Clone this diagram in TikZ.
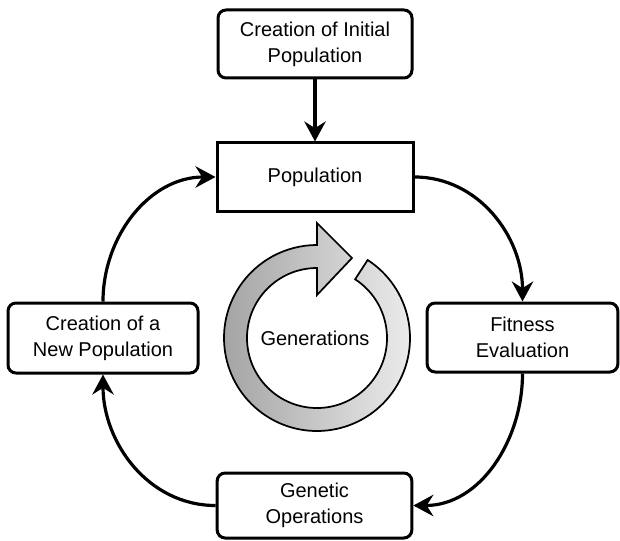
\documentclass[tikz,border=0pt]{standalone}
\usepackage{fontspec}
\setmainfont{Liberation Sans}
\usetikzlibrary{arrows.meta}
\begin{document}
\begin{tikzpicture}[x=0.75pt,y=0.75pt,
  box/.style={draw, line width=2.25pt, align=center, inner sep=0pt, font=\fontsize{15}{19.5}\selectfont},
  rbox/.style={box, rounded corners=6pt},
  conn/.style={line width=2.4pt, -{Stealth[length=15pt,width=16pt,inset=5pt]}},
  lbl/.style={font=\fontsize{15}{19.5}\selectfont}
]
\useasboundingbox (0,0) rectangle (620,540);

\node[rbox, minimum width=145.5pt, minimum height=51pt] (init) at (315,496) {Creation of Initial\\Population};
\node[box, minimum width=147pt, minimum height=51pt] (pop) at (315,363) {Population};
\node[rbox, minimum width=142.5pt, minimum height=52.5pt] (newpop) at (103,202) {Creation of a\\New Population};
\node[rbox, minimum width=143pt, minimum height=51.75pt] (fit) at (522.5,202.5) {Fitness\\Evaluation};
\node[rbox, minimum width=146pt, minimum height=48.75pt] (gen) at (314.5,34.5) {Genetic\\Operations};

\draw[conn] (init) -- (pop);
\draw[conn] (pop.east) to[out=0,in=90] (fit.north);
\draw[conn] (fit.south) to[out=-90,in=0] (gen.east);
\draw[conn] (gen.west) to[out=180,in=-90] (newpop.south);
\draw[conn] (newpop.north) to[out=90,in=180] (pop.west);

\begin{scope}[shift={(317,202)}]
  \shade[left color=gray!75, right color=gray!12, draw=black, line width=1.3pt, line join=miter]
    (57:93) arc[start angle=57, end angle=-270, radius=93]
    -- (0,115) -- (35,80) -- (0,43) -- (0,70)
    arc[start angle=90, end angle=417, radius=70] -- cycle;
\end{scope}
\node[lbl] (genlbl) at (315,202) {Generations};
\end{tikzpicture}
\end{document}
